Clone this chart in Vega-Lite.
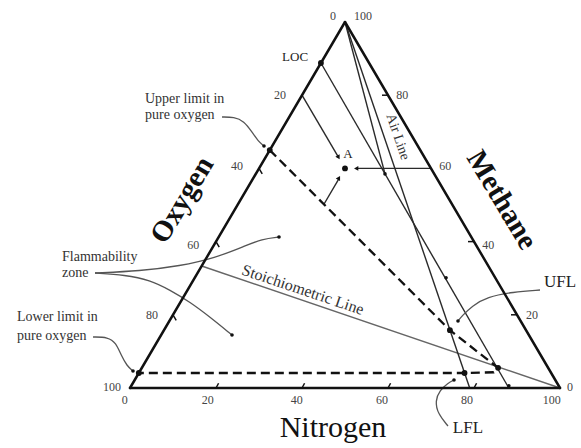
{
  "$schema": "https://vega.github.io/schema/vega-lite/v6.json",
  "width": 430,
  "height": 366,
  "autosize": {"type": "none"},
  "padding": {"left": 130, "top": 22, "right": 21, "bottom": 60},
  "background": "white",
  "config": {"view": {"stroke": null}, "axis": {"disable": true}, "text": {"font": "Liberation Serif", "color": "#222"}},
  "datasets": {
    "edges": [
      {"x": 0, "y": 0, "x2": 100, "y2": 0},
      {"x": 0, "y": 0, "x2": 50, "y2": 100},
      {"x": 100, "y": 0, "x2": 50, "y2": 100}
    ],
    "thin": [
      {"x": 44.4, "y": 88.8, "x2": 88.1, "y2": 0},
      {"x": 50, "y": 100, "x2": 59.3, "y2": 58.5},
      {"x": 50, "y": 100, "x2": 79, "y2": 0},
      {"x": 40, "y": 80, "x2": 48.5, "y2": 63},
      {"x": 70, "y": 60, "x2": 53, "y2": 60},
      {"x": 45, "y": 50, "x2": 48.6, "y2": 57.2}
    ],
    "stoich": [
      {"x": 16.67, "y": 33.33, "x2": 100, "y2": 0}
    ],
    "ticks": [
      {"x": 20, "y": 0, "x2": 20.6, "y2": 1.3},
      {"x": 40, "y": 0, "x2": 40.6, "y2": 1.3},
      {"x": 60, "y": 0, "x2": 60.6, "y2": 1.3},
      {"x": 80, "y": 0, "x2": 80.6, "y2": 1.3},
      {"x": 30, "y": 60, "x2": 30.75, "y2": 58.5},
      {"x": 20, "y": 40, "x2": 20.75, "y2": 38.5},
      {"x": 10, "y": 20, "x2": 10.75, "y2": 18.5},
      {"x": 60, "y": 80, "x2": 58.6, "y2": 80},
      {"x": 80, "y": 40, "x2": 78.6, "y2": 40},
      {"x": 90, "y": 20, "x2": 88.6, "y2": 20}
    ],
    "dashed": [
      {"o": 1, "x": 32.5, "y": 65},
      {"o": 2, "x": 74.4, "y": 15.8},
      {"o": 3, "x": 85.6, "y": 5.5},
      {"o": 4, "x": 84.6, "y": 4.3},
      {"o": 5, "x": 77.8, "y": 4.1},
      {"o": 6, "x": 2.05, "y": 4.1}
    ],
    "curves": [
      {"id": "fu", "o": 1, "x": -8.14, "y": 31.42},
      {"id": "fu", "o": 2, "x": 2.33, "y": 31.97},
      {"id": "fu", "o": 3, "x": 11.63, "y": 33.33},
      {"id": "fu", "o": 4, "x": 19.77, "y": 35.52},
      {"id": "fu", "o": 5, "x": 26.74, "y": 38.8},
      {"id": "fu", "o": 6, "x": 30.7, "y": 40.71},
      {"id": "fu", "o": 7, "x": 34.65, "y": 41.26},
      {"id": "fl", "o": 1, "x": -8.14, "y": 31.42},
      {"id": "fl", "o": 2, "x": -1.16, "y": 30.87},
      {"id": "fl", "o": 3, "x": 4.65, "y": 29.51},
      {"id": "fl", "o": 4, "x": 9.3, "y": 26.78},
      {"id": "fl", "o": 5, "x": 13.95, "y": 23.5},
      {"id": "fl", "o": 6, "x": 18.6, "y": 19.4},
      {"id": "fl", "o": 7, "x": 23.72, "y": 14.48},
      {"id": "up", "o": 1, "x": 21.4, "y": 74.04},
      {"id": "up", "o": 2, "x": 24.19, "y": 74.04},
      {"id": "up", "o": 3, "x": 26.51, "y": 72.95},
      {"id": "up", "o": 4, "x": 28.37, "y": 69.95},
      {"id": "up", "o": 5, "x": 29.77, "y": 67.49},
      {"id": "up", "o": 6, "x": 31.16, "y": 66.12},
      {"id": "lo", "o": 1, "x": -8.6, "y": 13.93},
      {"id": "lo", "o": 2, "x": -5.12, "y": 13.93},
      {"id": "lo", "o": 3, "x": -3.26, "y": 12.3},
      {"id": "lo", "o": 4, "x": -2.09, "y": 9.02},
      {"id": "lo", "o": 5, "x": -0.7, "y": 6.01},
      {"id": "lo", "o": 6, "x": 0.7, "y": 4.64},
      {"id": "ufl", "o": 1, "x": 95.35, "y": 26.78},
      {"id": "ufl", "o": 2, "x": 89.07, "y": 26.23},
      {"id": "ufl", "o": 3, "x": 83.02, "y": 24.86},
      {"id": "ufl", "o": 4, "x": 79.53, "y": 22.4},
      {"id": "ufl", "o": 5, "x": 77.21, "y": 19.67},
      {"id": "ufl", "o": 6, "x": 76.28, "y": 18.31},
      {"id": "lfl", "o": 1, "x": 73.95, "y": -10.38},
      {"id": "lfl", "o": 2, "x": 71.63, "y": -7.1},
      {"id": "lfl", "o": 3, "x": 70.93, "y": -3.55},
      {"id": "lfl", "o": 4, "x": 72.09, "y": -0.55},
      {"id": "lfl", "o": 5, "x": 73.95, "y": 1.37},
      {"id": "lfl", "o": 6, "x": 75.35, "y": 2.19}
    ],
    "bigdots": [
      {"x": 44.4, "y": 88.8},
      {"x": 32.5, "y": 65},
      {"x": 50, "y": 60},
      {"x": 74.4, "y": 15.8},
      {"x": 85.6, "y": 5.5},
      {"x": 77.8, "y": 4.1},
      {"x": 2.05, "y": 4.1}
    ],
    "smalldots": [
      {"x": 59.3, "y": 58.5},
      {"x": 73.5, "y": 30.1},
      {"x": 88.1, "y": 0.6},
      {"x": 34.65, "y": 41.26},
      {"x": 23.72, "y": 14.48},
      {"x": 76.28, "y": 18.31},
      {"x": 75.35, "y": 2.19},
      {"x": 31.16, "y": 66.12},
      {"x": 0.7, "y": 4.64}
    ],
    "arrowDown": [{"x": 48.5, "y": 63}],
    "arrowLeft": [{"x": 52.6, "y": 60}],
    "arrowUp": [{"x": 48.6, "y": 57.4}],
    "ticklabels": [
      {"x": -1.2, "y": -3.3, "t": "0"},
      {"x": 18.1, "y": -3.3, "t": "20"},
      {"x": 38.8, "y": -3.3, "t": "40"},
      {"x": 58.6, "y": -3.3, "t": "60"},
      {"x": 78.4, "y": -3.3, "t": "80"},
      {"x": 98.1, "y": -3.3, "t": "100"},
      {"x": 47.2, "y": 101.6, "t": "0"},
      {"x": 34.9, "y": 80.1, "t": "20"},
      {"x": 24.9, "y": 60.7, "t": "40"},
      {"x": 14.7, "y": 39.1, "t": "60"},
      {"x": 5.1, "y": 19.9, "t": "80"},
      {"x": -4.2, "y": 0.3, "t": "100"},
      {"x": 54.2, "y": 101.6, "t": "100"},
      {"x": 63.3, "y": 80.1, "t": "80"},
      {"x": 73.3, "y": 60.7, "t": "60"},
      {"x": 83.3, "y": 39.1, "t": "40"},
      {"x": 93.5, "y": 19.9, "t": "20"},
      {"x": 102.3, "y": 0.3, "t": "0"}
    ],
    "notes": [
      {"x": 3.49, "y": 78.96, "t": "Upper limit in"},
      {"x": 3.49, "y": 74.59, "t": "pure oxygen"},
      {"x": -15.81, "y": 35.79, "t": "Flammability"},
      {"x": -15.81, "y": 31.42, "t": "zone"},
      {"x": -26.28, "y": 19.4, "t": "Lower limit in"},
      {"x": -26.28, "y": 14.21, "t": "pure oxygen"}
    ],
    "small": [
      {"x": 38.4, "y": 90.4, "t": "LOC"},
      {"x": 50.7, "y": 63.9, "t": "A"}
    ],
    "limits": [
      {"x": 100, "y": 28.96, "t": "UFL"},
      {"x": 78.6, "y": -10.93, "t": "LFL"}
    ],
    "oxygen": [{"x": 12.1, "y": 51.4, "t": "Oxygen"}],
    "methane": [{"x": 86.5, "y": 51.4, "t": "Methane"}],
    "nitrogen": [{"x": 47.2, "y": -10.9, "t": "Nitrogen"}],
    "stoichlabel": [{"x": 40.2, "y": 26.8, "t": "Stoichiometric Line"}],
    "airlabel": [{"x": 62.3, "y": 68.6, "t": "Air Line"}]
  },
  "encoding": {
    "x": {"field": "x", "type": "quantitative", "scale": {"domain": [0, 100], "nice": false, "zero": false}, "axis": null},
    "y": {"field": "y", "type": "quantitative", "scale": {"domain": [0, 100], "nice": false, "zero": false}, "axis": null}
  },
  "layer": [
    {"data": {"name": "stoich"}, "mark": {"type": "rule", "strokeWidth": 1.4, "color": "#666"}, "encoding": {"x2": {"field": "x2"}, "y2": {"field": "y2"}}},
    {"data": {"name": "thin"}, "mark": {"type": "rule", "strokeWidth": 1.4, "color": "#2a2a2a"}, "encoding": {"x2": {"field": "x2"}, "y2": {"field": "y2"}}},
    {"data": {"name": "curves"}, "mark": {"type": "line", "strokeWidth": 1.3, "color": "#555", "interpolate": "basis"}, "encoding": {"detail": {"field": "id"}, "order": {"field": "o"}}},
    {"data": {"name": "dashed"}, "mark": {"type": "line", "strokeWidth": 2.3, "color": "#111", "strokeDash": [9, 5]}, "encoding": {"order": {"field": "o"}}},
    {"data": {"name": "edges"}, "mark": {"type": "rule", "strokeWidth": 2.5, "color": "#111", "strokeCap": "round"}, "encoding": {"x2": {"field": "x2"}, "y2": {"field": "y2"}}},
    {"data": {"name": "ticks"}, "mark": {"type": "rule", "strokeWidth": 1.5, "color": "#111"}, "encoding": {"x2": {"field": "x2"}, "y2": {"field": "y2"}}},
    {"data": {"name": "bigdots"}, "mark": {"type": "point", "filled": true, "size": 34, "color": "#111", "opacity": 1}},
    {"data": {"name": "smalldots"}, "mark": {"type": "point", "filled": true, "size": 13, "color": "#111", "opacity": 1}},
    {"data": {"name": "arrowDown"}, "mark": {"type": "point", "shape": "triangle-down", "angle": -30, "filled": true, "size": 24, "color": "#111", "opacity": 1}},
    {"data": {"name": "arrowLeft"}, "mark": {"type": "point", "shape": "triangle-left", "filled": true, "size": 24, "color": "#111", "opacity": 1}},
    {"data": {"name": "arrowUp"}, "mark": {"type": "point", "shape": "triangle-up", "angle": 30, "filled": true, "size": 24, "color": "#111", "opacity": 1}},
    {"data": {"name": "ticklabels"}, "mark": {"type": "text", "fontSize": 12, "color": "#444", "align": "center", "baseline": "middle"}, "encoding": {"text": {"field": "t"}}},
    {"data": {"name": "notes"}, "mark": {"type": "text", "fontSize": 14, "color": "#333", "align": "left", "baseline": "middle"}, "encoding": {"text": {"field": "t"}}},
    {"data": {"name": "small"}, "mark": {"type": "text", "fontSize": 13, "color": "#222", "align": "center", "baseline": "middle"}, "encoding": {"text": {"field": "t"}}},
    {"data": {"name": "limits"}, "mark": {"type": "text", "fontSize": 17, "color": "#222", "align": "center", "baseline": "middle"}, "encoding": {"text": {"field": "t"}}},
    {"data": {"name": "oxygen"}, "mark": {"type": "text", "fontSize": 29, "fontWeight": "bold", "angle": -59, "color": "#111", "align": "center", "baseline": "middle"}, "encoding": {"text": {"field": "t"}}},
    {"data": {"name": "methane"}, "mark": {"type": "text", "fontSize": 29, "fontWeight": "bold", "angle": 59, "color": "#111", "align": "center", "baseline": "middle"}, "encoding": {"text": {"field": "t"}}},
    {"data": {"name": "nitrogen"}, "mark": {"type": "text", "fontSize": 30, "color": "#111", "align": "center", "baseline": "middle"}, "encoding": {"text": {"field": "t"}}},
    {"data": {"name": "stoichlabel"}, "mark": {"type": "text", "fontSize": 16, "angle": 18.6, "color": "#333", "align": "center", "baseline": "middle"}, "encoding": {"text": {"field": "t"}}},
    {"data": {"name": "airlabel"}, "mark": {"type": "text", "fontSize": 14, "angle": 71, "color": "#333", "align": "center", "baseline": "middle"}, "encoding": {"text": {"field": "t"}}}
  ]
}
